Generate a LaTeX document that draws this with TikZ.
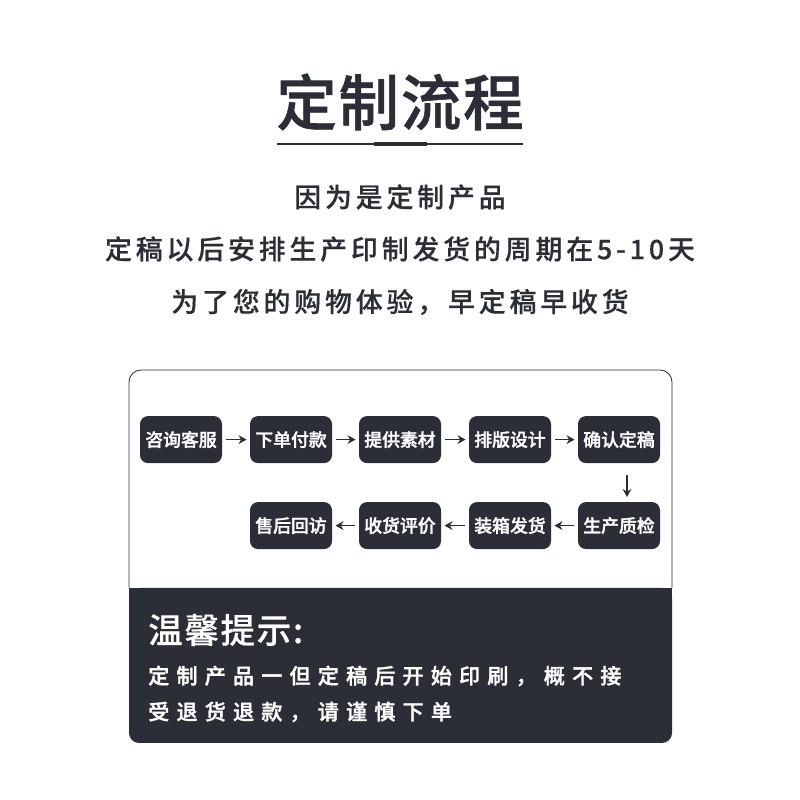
\documentclass[tikz,border=0pt]{standalone}
\usepackage{fontspec}
\setmainfont{Noto Sans CJK SC Medium}
\newfontfamily\boxfont[FakeBold=1.5]{Noto Sans CJK SC Medium}
\newfontfamily\titlefont[LetterSpace=3,FakeBold=1]{Noto Sans CJK SC Medium}
\newfontfamily\linefont[LetterSpace=14.5,FakeBold=0.4]{Noto Sans CJK SC Medium}
\newfontfamily\tipfont[LetterSpace=34,FakeBold=1.5]{Noto Sans CJK SC Medium}
\newfontfamily\headfont[LetterSpace=5,FakeBold=0.3]{Noto Sans CJK SC Medium}
\definecolor{inkdark}{HTML}{2B2E37}
\tikzset{
    stepbox/.style={fill=inkdark,text=white,rounded corners=0.2cm,minimum width=2.05cm,minimum height=1.175cm,inner sep=0pt,font=\boxfont\fontsize{12.7pt}{14pt}\selectfont},
    flowarrow/.style={-{Stealth[length=0.2cm,width=0.22cm]},inkdark,line width=1.2pt,shorten <=0.1cm,shorten >=0.08cm},
    introline/.style={text=inkdark,font=\linefont\fontsize{19.1pt}{21pt}\selectfont},
    tipline/.style={text=white,anchor=west,inner sep=0pt,font=\tipfont\fontsize{15pt}{17pt}\selectfont}
}
\usetikzlibrary{arrows.meta}
\begin{document}
\begin{tikzpicture}
    \useasboundingbox (0,0) rectangle (20,20);
    \fill[white] (0,0) rectangle (20,20);
    % heading
    \node[text=inkdark,font=\titlefont\fontsize{43pt}{46pt}\selectfont] (title) at (10,17.45) {定制流程};
    \draw[inkdark,line width=1.1pt] (6.92,16.4)--(13.08,16.4);
    \fill[inkdark] (9.35,16.35) rectangle (10.68,16.45);
    \node[introline] (introa) at (10,15.075) {因为是定制产品};
    \node[introline] (introb) at (10,13.775) {定稿以后安排生产印制发货的周期在5-10天};
    \node[introline] (introc) at (10,12.45) {为了您的购物体验，早定稿早收货};
    % card
    \fill[inkdark,rounded corners=0.25cm] (3.225,5.3) -- (3.225,1.425) -- (16.8,1.425) -- (16.8,5.3) -- cycle;
    \fill[inkdark] (3.225,5) rectangle (16.8,5.3);
    \draw[inkdark,line width=0.6pt,rounded corners=0.3cm] (3.225,5.3) -- (3.225,10.75) -- (16.8,10.75) -- (16.8,5.3);
    % top row
    \foreach \x/\name/\txt in {4.525/ask/咨询客服,7.275/order/下单付款,10/supply/提供素材,12.75/layout/排版设计,15.475/confirm/确认定稿}{
        \node[stepbox] (\name) at (\x,9.01) {\raisebox{-2pt}{\txt}};
    }
    % bottom row
    \foreach \x/\name/\txt in {15.475/make/生产质检,12.75/pack/装箱发货,10/review/收货评价,7.275/visit/售后回访}{
        \node[stepbox] (\name) at (\x,6.86) {\raisebox{-2pt}{\txt}};
    }
    \draw[flowarrow] (ask)--(order);
    \draw[flowarrow] (order)--(supply);
    \draw[flowarrow] (supply)--(layout);
    \draw[flowarrow] (layout)--(confirm);
    \draw[flowarrow,shorten <=0.3cm,shorten >=0.12cm] ([xshift=0.2cm]confirm.south)--([xshift=0.2cm]make.north);
    \draw[flowarrow] (make)--(pack);
    \draw[flowarrow] (pack)--(review);
    \draw[flowarrow] (review)--(visit);
    % tips
    \node[text=white,anchor=west,inner sep=0pt,font=\headfont\fontsize{24.5pt}{26pt}\selectfont] (tiphead) at (3.7,4.25) {温馨提示:};
    \node[tipline] (tipa) at (3.7,3.1) {定制产品一但定稿后开始印刷，概不接};
    \node[tipline] (tipb) at (3.7,2.2) {受退货退款，请谨慎下单};
\end{tikzpicture}
\end{document}
